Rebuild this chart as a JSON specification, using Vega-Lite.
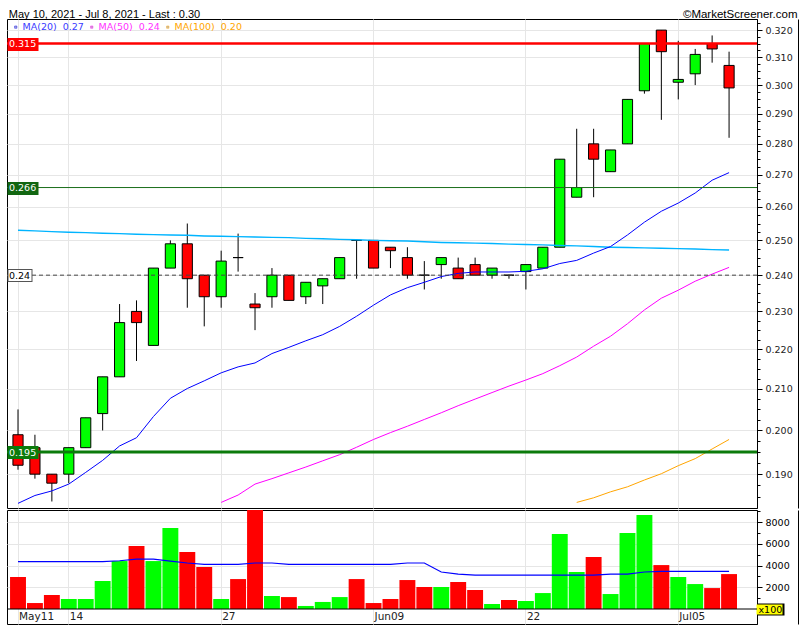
{
  "$schema": "https://vega.github.io/schema/vega-lite/v6.json",
  "background": "white",
  "padding": {"left": 0, "top": 7, "right": 5, "bottom": 5},
  "spacing": 0,
  "config": {
    "view": {"stroke": "#000", "strokeWidth": 1},
    "concat": {"spacing": 0},
    "axis": {"labelFont": "DejaVu Sans", "labelFontSize": 9.5, "labelColor": "#222", "gridColor": "#e6e6e6", "gridWidth": 1, "domainColor": "#000", "tickColor": "#000", "tickWidth": 1, "labelOverlap": false}
  },
  "datasets": {
    "d": [
      {"d":"2021-05-11","o":0.199,"h":0.205,"l":0.191,"c":0.192,"v":2950,"vma":4360,"ma20":0.1836,"sky":0.2530},
      {"d":"2021-05-12","o":0.196,"h":0.199,"l":0.189,"c":0.190,"v":550,"vma":4360,"ma20":0.1853,"sky":0.2528},
      {"d":"2021-05-13","o":0.190,"h":0.190,"l":0.184,"c":0.188,"v":1290,"vma":4360,"ma20":0.1863,"sky":0.2526},
      {"d":"2021-05-14","o":0.190,"h":0.196,"l":0.188,"c":0.196,"v":920,"vma":4360,"ma20":0.1878,"sky":0.2524},
      {"d":"2021-05-17","o":0.196,"h":0.203,"l":0.196,"c":0.203,"v":920,"vma":4360,"ma20":0.1904,"sky":0.2523},
      {"d":"2021-05-18","o":0.204,"h":0.213,"l":0.200,"c":0.213,"v":2580,"vma":4360,"ma20":0.1931,"sky":0.2521},
      {"d":"2021-05-19","o":0.213,"h":0.232,"l":0.213,"c":0.227,"v":4420,"vma":4450,"ma20":0.1964,"sky":0.2520},
      {"d":"2021-05-20","o":0.230,"h":0.233,"l":0.217,"c":0.227,"v":5800,"vma":4600,"ma20":0.1983,"sky":0.2518},
      {"d":"2021-05-21","o":0.221,"h":0.242,"l":0.221,"c":0.242,"v":4420,"vma":4600,"ma20":0.2033,"sky":0.2517},
      {"d":"2021-05-24","o":0.242,"h":0.250,"l":0.242,"c":0.249,"v":7460,"vma":4420,"ma20":0.2077,"sky":0.2516},
      {"d":"2021-05-25","o":0.249,"h":0.255,"l":0.231,"c":0.239,"v":5250,"vma":4240,"ma20":0.2101,"sky":0.2515},
      {"d":"2021-05-26","o":0.240,"h":0.240,"l":0.226,"c":0.234,"v":3870,"vma":4110,"ma20":0.2120,"sky":0.2513},
      {"d":"2021-05-27","o":0.234,"h":0.247,"l":0.231,"c":0.244,"v":920,"vma":4110,"ma20":0.2140,"ma50":0.1838,"sky":0.2512},
      {"d":"2021-05-28","o":0.245,"h":0.252,"l":0.241,"c":0.245,"v":2760,"vma":4110,"ma20":0.2155,"ma50":0.1854,"sky":0.2511},
      {"d":"2021-05-31","o":0.232,"h":0.235,"l":0.225,"c":0.231,"v":9300,"vma":4240,"ma20":0.2165,"ma50":0.1878,"sky":0.2510},
      {"d":"2021-06-01","o":0.234,"h":0.242,"l":0.231,"c":0.240,"v":1200,"vma":4240,"ma20":0.2189,"ma50":0.1890,"sky":0.2509},
      {"d":"2021-06-02","o":0.240,"h":0.240,"l":0.233,"c":0.233,"v":1100,"vma":4110,"ma20":0.2205,"ma50":0.1903,"sky":0.2508},
      {"d":"2021-06-03","o":0.234,"h":0.238,"l":0.232,"c":0.238,"v":280,"vma":4110,"ma20":0.2222,"ma50":0.1916,"sky":0.2506},
      {"d":"2021-06-04","o":0.237,"h":0.239,"l":0.232,"c":0.239,"v":650,"vma":4110,"ma20":0.2238,"ma50":0.1930,"sky":0.2505},
      {"d":"2021-06-07","o":0.239,"h":0.245,"l":0.239,"c":0.245,"v":1100,"vma":4110,"ma20":0.2260,"ma50":0.1944,"sky":0.2503},
      {"d":"2021-06-08","o":0.250,"h":0.250,"l":0.239,"c":0.250,"v":2760,"vma":4110,"ma20":0.2287,"ma50":0.1961,"sky":0.2502},
      {"d":"2021-06-09","o":0.250,"h":0.250,"l":0.242,"c":0.242,"v":550,"vma":4110,"ma20":0.2317,"ma50":0.1979,"sky":0.2500},
      {"d":"2021-06-10","o":0.248,"h":0.248,"l":0.242,"c":0.247,"v":920,"vma":4110,"ma20":0.2345,"ma50":0.1995,"sky":0.2499},
      {"d":"2021-06-11","o":0.245,"h":0.248,"l":0.239,"c":0.240,"v":2670,"vma":4240,"ma20":0.2365,"ma50":0.2010,"sky":0.2498},
      {"d":"2021-06-14","o":0.240,"h":0.244,"l":0.236,"c":0.240,"v":2030,"vma":4240,"ma20":0.2380,"ma50":0.2026,"sky":0.2496},
      {"d":"2021-06-15","o":0.243,"h":0.245,"l":0.239,"c":0.245,"v":2030,"vma":3410,"ma20":0.2396,"ma50":0.2042,"sky":0.2494},
      {"d":"2021-06-16","o":0.242,"h":0.245,"l":0.239,"c":0.239,"v":2490,"vma":3220,"ma20":0.2405,"ma50":0.2059,"sky":0.2493},
      {"d":"2021-06-17","o":0.243,"h":0.245,"l":0.240,"c":0.240,"v":1750,"vma":3130,"ma20":0.2409,"ma50":0.2075,"sky":0.2492},
      {"d":"2021-06-18","o":0.240,"h":0.242,"l":0.239,"c":0.242,"v":460,"vma":3130,"ma20":0.2409,"ma50":0.2091,"sky":0.2491},
      {"d":"2021-06-21","o":0.240,"h":0.240,"l":0.239,"c":0.240,"v":830,"vma":3130,"ma20":0.2409,"ma50":0.2107,"sky":0.2489},
      {"d":"2021-06-22","o":0.241,"h":0.243,"l":0.236,"c":0.243,"v":740,"vma":3130,"ma20":0.2411,"ma50":0.2122,"sky":0.2488},
      {"d":"2021-06-23","o":0.242,"h":0.248,"l":0.242,"c":0.248,"v":1470,"vma":3130,"ma20":0.2418,"ma50":0.2138,"sky":0.2487},
      {"d":"2021-06-24","o":0.248,"h":0.275,"l":0.248,"c":0.275,"v":6910,"vma":3130,"ma20":0.2433,"ma50":0.2158,"sky":0.2485},
      {"d":"2021-06-25","o":0.263,"h":0.285,"l":0.263,"c":0.266,"v":3410,"vma":3130,"ma20":0.2442,"ma50":0.2180,"ma100":0.1838,"sky":0.2484},
      {"d":"2021-06-28","o":0.280,"h":0.285,"l":0.263,"c":0.275,"v":4790,"vma":3130,"ma20":0.2463,"ma50":0.2208,"ma100":0.1848,"sky":0.2482},
      {"d":"2021-06-29","o":0.271,"h":0.278,"l":0.271,"c":0.278,"v":1380,"vma":3220,"ma20":0.2482,"ma50":0.2234,"ma100":0.1861,"sky":0.2480},
      {"d":"2021-06-30","o":0.280,"h":0.295,"l":0.280,"c":0.295,"v":7000,"vma":3220,"ma20":0.2516,"ma50":0.2267,"ma100":0.1872,"sky":0.2479},
      {"d":"2021-07-01","o":0.298,"h":0.315,"l":0.297,"c":0.315,"v":8660,"vma":3410,"ma20":0.2554,"ma50":0.2304,"ma100":0.1887,"sky":0.2478},
      {"d":"2021-07-02","o":0.320,"h":0.320,"l":0.288,"c":0.312,"v":4050,"vma":3470,"ma20":0.2587,"ma50":0.2336,"ma100":0.1901,"sky":0.2477},
      {"d":"2021-07-05","o":0.301,"h":0.316,"l":0.295,"c":0.302,"v":2950,"vma":3470,"ma20":0.2612,"ma50":0.2358,"ma100":0.1919,"sky":0.2476},
      {"d":"2021-07-06","o":0.304,"h":0.313,"l":0.300,"c":0.311,"v":2300,"vma":3470,"ma20":0.2643,"ma50":0.2383,"ma100":0.1935,"sky":0.2475},
      {"d":"2021-07-07","o":0.315,"h":0.318,"l":0.308,"c":0.313,"v":1930,"vma":3470,"ma20":0.2683,"ma50":0.2403,"ma100":0.1957,"sky":0.2473},
      {"d":"2021-07-08","o":0.307,"h":0.312,"l":0.282,"c":0.299,"v":3220,"vma":3470,"ma20":0.2707,"ma50":0.2422,"ma100":0.1979,"sky":0.2472}
    ]
  },
  "vconcat": [
    {
      "width": 750,
      "height": 489,
      "data": {"name": "d"},
      "layer": [
        {
          "layer": [
            {
              "mark": {"type": "rule", "color": "#000", "strokeWidth": 1},
              "encoding": {
                "x": {"field": "d", "type": "ordinal", "bandPosition": 0.5,
                  "scale": {"type": "band", "paddingInner": 0, "paddingOuter": 0.15, "domain": ["2021-05-11","2021-05-12","2021-05-13","2021-05-14","2021-05-17","2021-05-18","2021-05-19","2021-05-20","2021-05-21","2021-05-24","2021-05-25","2021-05-26","2021-05-27","2021-05-28","2021-05-31","2021-06-01","2021-06-02","2021-06-03","2021-06-04","2021-06-07","2021-06-08","2021-06-09","2021-06-10","2021-06-11","2021-06-14","2021-06-15","2021-06-16","2021-06-17","2021-06-18","2021-06-21","2021-06-22","2021-06-23","2021-06-24","2021-06-25","2021-06-28","2021-06-29","2021-06-30","2021-07-01","2021-07-02","2021-07-05","2021-07-06","2021-07-07","2021-07-08","2021-07-09"]},
                  "axis": {"values": ["2021-05-11","2021-05-14","2021-05-27","2021-06-09","2021-06-22","2021-07-05"], "labels": false, "ticks": false, "domain": false, "grid": true, "title": null, "bandPosition": 0.5}},
                "y": {"field": "l", "type": "quantitative",
                  "scale": {"type": "log", "domain": [0.1826, 0.3242], "nice": false, "zero": false},
                  "axis": {"orient": "right", "title": null, "grid": true, "domain": true, "labelPadding": 3, "labelFlush": false, "labelOverlap": false, "labelBound": false,
                    "values": [0.185,0.1875,0.19,0.1925,0.195,0.1975,0.2,0.2025,0.205,0.2075,0.21,0.2125,0.215,0.2175,0.22,0.2225,0.225,0.2275,0.23,0.2325,0.235,0.2375,0.24,0.2425,0.245,0.2475,0.25,0.2525,0.255,0.2575,0.26,0.2625,0.265,0.2675,0.27,0.2725,0.275,0.2775,0.28,0.2825,0.285,0.2875,0.29,0.2925,0.295,0.2975,0.3,0.3025,0.305,0.3075,0.31,0.3125,0.315,0.3175,0.32,0.3225],
                    "labelExpr": "abs(datum.value*100 - round(datum.value*100)) < 0.01 ? format(datum.value, '.3f') : ''",
                    "tickSize": {"condition": {"test": "abs(datum.value*100 - round(datum.value*100)) < 0.01", "value": 5}, "value": 3},
                    "gridOpacity": {"condition": {"test": "abs(datum.value*100 - round(datum.value*100)) < 0.01", "value": 1}, "value": 0}}},
                "y2": {"field": "h"}
              }
            },
            {
              "mark": {"type": "bar", "width": {"band": 0.6}, "stroke": "#000", "strokeWidth": 1},
              "encoding": {
                "x": {"field": "d", "type": "ordinal"},
                "y": {"field": "o", "type": "quantitative"},
                "y2": {"field": "c"},
                "fill": {"condition": {"test": "datum.c > datum.o", "value": "#00ff00"}, "value": "#ff0000"}
              }
            },
            {
              "mark": {"type": "line", "color": "#00b4ff", "strokeWidth": 1.4},
              "encoding": {
                "x": {"field": "d", "type": "ordinal", "bandPosition": 0.5},
                "y": {"field": "sky", "type": "quantitative"}
              }
            },
            {
              "transform": [{"fold": ["ma20", "ma50", "ma100"], "as": ["s", "val"]}, {"filter": {"field": "val", "valid": true}}],
              "mark": {"type": "line", "strokeWidth": 1},
              "encoding": {
                "x": {"field": "d", "type": "ordinal", "bandPosition": 0.5},
                "y": {"field": "val", "type": "quantitative"},
                "color": {"field": "s", "type": "nominal",
                  "scale": {"domain": ["ma20", "ma50", "ma100"], "range": ["#0000ff", "#ff00ff", "#ffa500"]},
                  "legend": {"orient": "none", "legendX": 4, "legendY": 3, "direction": "horizontal", "title": null, "padding": 0,
                    "labelExpr": "datum.label == 'ma20' ? 'MA(20)\u00a0\u00a00.27' : datum.label == 'ma50' ? 'MA(50)\u00a0\u00a00.24' : 'MA(100)\u00a0\u00a00.20'",
                    "labelColor": {"expr": "datum.value == 'ma20' ? '#3b3bff' : datum.value == 'ma50' ? '#ff33ff' : '#ffa500'"},
                    "labelFont": "DejaVu Sans", "labelFontSize": 9.5, "labelOffset": 2, "columnPadding": 3, "labelLimit": 200,
                    "symbolType": "square", "symbolSize": 5, "symbolFillColor": "#c0c0c0", "symbolStrokeColor": "#c0c0c0", "symbolStrokeWidth": 0.5}}
              }
            },
            {
              "data": {"values": [{}]},
              "mark": {"type": "rule", "color": "#ff0000", "strokeWidth": 2.5},
              "encoding": {"y": {"datum": 0.315, "type": "quantitative"}}
            },
            {
              "data": {"values": [{}]},
              "mark": {"type": "rule", "color": "#1a6e1a", "strokeWidth": 1},
              "encoding": {"y": {"datum": 0.266, "type": "quantitative"}}
            },
            {
              "data": {"values": [{}]},
              "mark": {"type": "rule", "color": "#444", "strokeWidth": 1, "strokeDash": [4, 3]},
              "encoding": {"y": {"datum": 0.24, "type": "quantitative"}}
            },
            {
              "data": {"values": [{}]},
              "mark": {"type": "rule", "color": "#0b7b0b", "strokeWidth": 3},
              "encoding": {"y": {"datum": 0.195, "type": "quantitative"}}
            }
          ]
        },
        {
          "data": {"values": [{}]},
          "mark": {"type": "rule", "opacity": 0},
          "encoding": {
            "y": {"datum": 0.24, "type": "quantitative",
              "scale": {"type": "log", "domain": [0.1826, 0.3242], "nice": false, "zero": false},
              "axis": {"orient": "left", "values": [0.24], "offset": -25, "domain": false, "grid": false, "labels": false,
                "ticks": true, "tickSize": 25, "tickWidth": 13, "tickCap": "butt", "tickColor": "#555555", "zindex": 2, "title": null}}
          }
        },
        {
          "data": {"values": [{}]},
          "mark": {"type": "rule", "opacity": 0},
          "encoding": {
            "y": {"datum": 0.24, "type": "quantitative",
              "scale": {"type": "log", "domain": [0.1826, 0.3242], "nice": false, "zero": false},
              "axis": {"orient": "left", "values": [0.24], "offset": -24, "domain": false, "grid": false, "labels": false,
                "ticks": true, "tickSize": 23, "tickWidth": 11, "tickCap": "butt", "tickColor": "#ffffff", "zindex": 2, "title": null}}
          }
        },
        {
          "data": {"values": [{}]},
          "mark": {"type": "rule", "opacity": 0},
          "encoding": {
            "y": {"datum": 0.24, "type": "quantitative",
              "scale": {"type": "log", "domain": [0.1826, 0.3242], "nice": false, "zero": false},
              "axis": {"orient": "left", "values": [0.315, 0.266, 0.24, 0.195], "format": ".3~f", "offset": -31, "domain": false, "grid": false,
                "ticks": true, "tickSize": 31, "tickWidth": 13, "tickCap": "butt",
                "tickColor": {"expr": "datum.value == 0.315 ? '#ff0000' : datum.value == 0.266 ? '#116611' : datum.value == 0.195 ? '#0b7b0b' : 'rgba(0,0,0,0)'"},
                "labelAlign": "left", "labelBaseline": "middle", "labelPadding": -1.5,
                "labelColor": {"expr": "datum.value == 0.24 ? '#000000' : '#ffffff'"},
                "labelFont": "DejaVu Sans", "labelFontSize": 9.5, "labelFlush": false, "labelOverlap": false, "labelBound": false, "zindex": 3,
                "title": "May 10, 2021 - Jul 8, 2021 - Last : 0.30", "titleAngle": 0, "titleAlign": "left", "titleBaseline": "alphabetic",
                "titleX": -29.7, "titleY": -1.7, "titleFont": "Liberation Sans", "titleFontSize": 11, "titleFontWeight": "normal", "titleColor": "#000"}}
          }
        },
        {
          "data": {"values": [{}]},
          "mark": {"type": "rule", "opacity": 0},
          "encoding": {
            "y": {"datum": 0.24, "type": "quantitative",
              "scale": {"type": "log", "domain": [0.1826, 0.3242], "nice": false, "zero": false},
              "axis": {"orient": "right", "offset": 41, "domain": true, "domainColor": "#000", "ticks": false, "labels": false, "grid": false,
                "title": "©MarketScreener.com", "titleAngle": 0, "titleAlign": "right", "titleBaseline": "alphabetic",
                "titleX": -1, "titleY": -1.7, "titleFont": "Liberation Sans", "titleFontSize": 11.5, "titleFontWeight": "normal", "titleColor": "#000"}}
          }
        }
      ],
      "resolve": {"scale": {"y": "independent"}}
    },
    {
      "width": 750,
      "height": 114,
      "data": {"name": "d"},
      "layer": [
        {
          "layer": [
            {
              "mark": {"type": "bar", "width": {"band": 0.94}, "clip": true},
              "encoding": {
                "x": {"field": "d", "type": "ordinal",
                  "scale": {"type": "band", "paddingInner": 0, "paddingOuter": 0.15, "domain": ["2021-05-11","2021-05-12","2021-05-13","2021-05-14","2021-05-17","2021-05-18","2021-05-19","2021-05-20","2021-05-21","2021-05-24","2021-05-25","2021-05-26","2021-05-27","2021-05-28","2021-05-31","2021-06-01","2021-06-02","2021-06-03","2021-06-04","2021-06-07","2021-06-08","2021-06-09","2021-06-10","2021-06-11","2021-06-14","2021-06-15","2021-06-16","2021-06-17","2021-06-18","2021-06-21","2021-06-22","2021-06-23","2021-06-24","2021-06-25","2021-06-28","2021-06-29","2021-06-30","2021-07-01","2021-07-02","2021-07-05","2021-07-06","2021-07-07","2021-07-08","2021-07-09"]},
                  "axis": {"values": ["2021-05-11","2021-05-14","2021-05-27","2021-06-09","2021-06-22","2021-07-05"],
                    "labelExpr": "datum.value == '2021-05-11' ? 'May11' : datum.value == '2021-05-14' ? '14' : datum.value == '2021-05-27' ? '27' : datum.value == '2021-06-09' ? 'Jun09' : datum.value == '2021-06-22' ? '22' : 'Jul05'",
                    "labelAngle": 0, "labelAlign": "left", "labelOffset": 1, "labelPadding": -4.5, "labelBaseline": "alphabetic", "labelFontSize": 10.5, "labelColor": "#222",
                    "ticks": true, "tickSize": 0, "tickOpacity": 0, "domain": false, "grid": true, "title": null, "bandPosition": 0.5, "labelFlush": false, "labelOverlap": false}},
                "y": {"field": "v", "type": "quantitative",
                  "scale": {"type": "linear", "domain": [-1383, 9128], "nice": false, "zero": false},
                  "axis": {"orient": "right", "title": null, "grid": true, "domain": true, "labelFlush": false, "labelOverlap": false, "labelBound": false,
                    "values": [2000, 6000], "format": "d", "tickSize": 5, "labelPadding": 3, "labelColor": "#000"}},
                "y2": {"datum": 0},
                "color": {"condition": {"test": "datum.c > datum.o", "value": "#00ff00"}, "value": "#ff0000"}
              }
            },
            {
              "mark": {"type": "line", "color": "#0000ff", "strokeWidth": 1.2},
              "encoding": {
                "x": {"field": "d", "type": "ordinal", "bandPosition": 0.5},
                "y": {"field": "vma", "type": "quantitative"}
              }
            },
            {
              "data": {"values": [{}]},
              "mark": {"type": "rule", "color": "#000", "strokeWidth": 1},
              "encoding": {"y": {"datum": 0, "type": "quantitative"}}
            }
          ]
        },
        {
          "data": {"values": [{}]},
          "mark": {"type": "rule", "opacity": 0},
          "encoding": {
            "y": {"datum": 0, "type": "quantitative",
              "scale": {"type": "linear", "domain": [-1383, 9128], "nice": false, "zero": false},
              "axis": {"orient": "right", "offset": 0, "domain": false, "grid": true, "title": null, "labelFlush": false, "labelOverlap": false, "labelBound": false,
                "values": [4000, 8000], "format": "d", "tickSize": 5, "labelPadding": 3, "labelColor": "#000"}}
          }
        },
        {
          "data": {"values": [{}]},
          "mark": {"type": "rule", "opacity": 0},
          "encoding": {
            "y": {"datum": 0, "type": "quantitative",
              "scale": {"type": "linear", "domain": [-1383, 9128], "nice": false, "zero": false},
              "axis": {"orient": "right", "offset": 0, "domain": false, "ticks": true, "tickSize": 3, "labels": false, "grid": false, "title": null,
                "values": [1000, 3000, 5000, 7000, 9000]}}
          }
        },
        {
          "data": {"values": [{}]},
          "mark": {"type": "rule", "opacity": 0},
          "encoding": {
            "y": {"datum": 0, "type": "quantitative",
              "scale": {"type": "linear", "domain": [-1383, 9128], "nice": false, "zero": false},
              "axis": {"orient": "right", "offset": 0, "domain": false, "grid": false, "title": null, "values": [0], "labels": false,
                "ticks": true, "tickSize": 27, "tickWidth": 12, "tickCap": "butt", "tickColor": "#000000"}}
          }
        },
        {
          "data": {"values": [{}]},
          "mark": {"type": "rule", "opacity": 0},
          "encoding": {
            "y": {"datum": 0, "type": "quantitative",
              "scale": {"type": "linear", "domain": [-1383, 9128], "nice": false, "zero": false},
              "axis": {"orient": "right", "offset": -1, "domain": false, "grid": false, "title": null, "values": [0],
                "ticks": true, "tickSize": 26, "tickWidth": 10, "tickCap": "butt", "tickColor": "#ffff00",
                "labelExpr": "'x100'", "labelPadding": -24, "labelColor": "#000", "labelAlign": "left", "labelBaseline": "middle"}}
          }
        },
        {
          "data": {"values": [{}]},
          "mark": {"type": "rule", "opacity": 0},
          "encoding": {
            "y": {"datum": 0, "type": "quantitative",
              "scale": {"type": "linear", "domain": [-1383, 9128], "nice": false, "zero": false},
              "axis": {"orient": "right", "offset": 41, "domain": true, "domainColor": "#000", "ticks": false, "labels": false, "grid": false, "title": null}}
          }
        }
      ],
      "resolve": {"scale": {"y": "independent"}}
    }
  ]
}
